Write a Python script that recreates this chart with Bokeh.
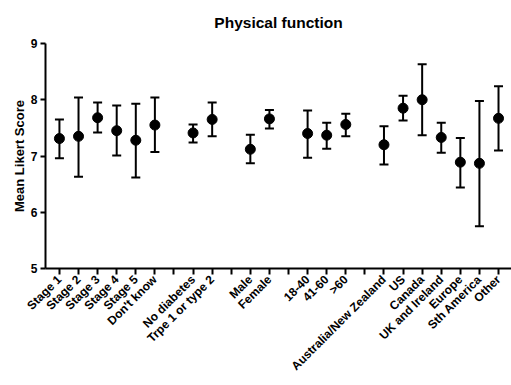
from bokeh.plotting import figure
from bokeh.models import Range1d, FixedTicker, ColumnDataSource, Whisker, TeeHead
from bokeh.embed import file_html
from bokeh.resources import INLINE
import math

# Category slots (blank strings are spacer slots between groups)
labels = ["Stage 1", "Stage 2", "Stage 3", "Stage 4", "Stage 5", "Don't know", "",
          "No diabetes", "Trpe 1 or type 2", "",
          "Male", "Female", "",
          "18-40", "41-60", ">60", "",
          "Australia/New Zealand", "US", "Canada", "UK and Ireland", "Europe", "Sth America", "Other"]
means = [7.31, 7.35, 7.68, 7.45, 7.28, 7.55, None,
         7.41, 7.65, None,
         7.12, 7.66, None,
         7.40, 7.37, 7.56, None,
         7.20, 7.85, 8.00, 7.33, 6.89, 6.87, 7.67]
upper = [7.65, 8.04, 7.95, 7.90, 7.93, 8.04, None,
         7.56, 7.95, None,
         7.38, 7.82, None,
         7.81, 7.59, 7.75, None,
         7.53, 8.07, 8.63, 7.59, 7.32, 7.98, 8.24]
lower = [6.96, 6.63, 7.42, 7.01, 6.62, 7.07, None,
         7.24, 7.35, None,
         6.87, 7.49, None,
         6.97, 7.13, 7.35, None,
         6.85, 7.63, 7.37, 7.06, 6.44, 5.75, 7.10]
y_ticks = [5, 6, 7, 8, 9]

FONT = "Liberation Sans"

xs = [i for i, m in enumerate(means) if m is not None]
src = ColumnDataSource(dict(
    x=xs,
    m=[means[i] for i in xs],
    up=[upper[i] for i in xs],
    lo=[lower[i] for i in xs],
))

p = figure(width=511, height=384, output_backend="svg", toolbar_location=None,
           x_range=Range1d(-0.73, 23.68), y_range=Range1d(5, 9),
           min_border_left=45, min_border_right=0, min_border_top=43, min_border_bottom=116,
           title="Physical function")
p.title.align = "center"
p.title.vertical_align = "top"
p.title.text_font = FONT
p.title.text_font_size = "15.5px"
p.title.text_font_style = "bold"
p.title.text_color = "black"
p.title.standoff = 21

p.grid.visible = False
p.outline_line_color = None

w = Whisker(source=src, base="x", upper="up", lower="lo", line_width=2, line_color="black",
            upper_head=TeeHead(size=9, line_width=2, line_color="black"),
            lower_head=TeeHead(size=9, line_width=2, line_color="black"))
p.add_layout(w)
p.scatter("x", "m", source=src, size=10, color="black")

xa = p.xaxis[0]
xa.ticker = FixedTicker(ticks=list(range(len(labels))))
xa.major_label_overrides = {i: lab for i, lab in enumerate(labels)}
xa.major_label_orientation = math.pi / 4
xa.minor_tick_line_color = None
xa.major_tick_out = 6
xa.major_tick_in = 0
xa.axis_line_width = 2
xa.major_tick_line_width = 2
xa.major_label_text_font = FONT
xa.major_label_text_font_size = "12px"
xa.major_label_text_font_style = "bold"
xa.major_label_text_color = "black"
xa.major_label_standoff = 3

ya = p.yaxis[0]
ya.ticker = FixedTicker(ticks=y_ticks)
ya.minor_tick_line_color = None
ya.major_tick_out = 5
ya.major_tick_in = 0
ya.axis_line_width = 2
ya.major_tick_line_width = 2
ya.major_label_text_font = FONT
ya.major_label_text_font_size = "12px"
ya.major_label_text_font_style = "bold"
ya.major_label_text_color = "black"
ya.major_label_standoff = 3
ya.axis_label = "Mean Likert Score"
ya.axis_label_text_font = FONT
ya.axis_label_text_font_size = "13px"
ya.axis_label_text_font_style = "bold"
ya.axis_label_text_color = "black"
ya.axis_label_standoff = 1

open("out.html", "w").write(file_html(p, INLINE))
